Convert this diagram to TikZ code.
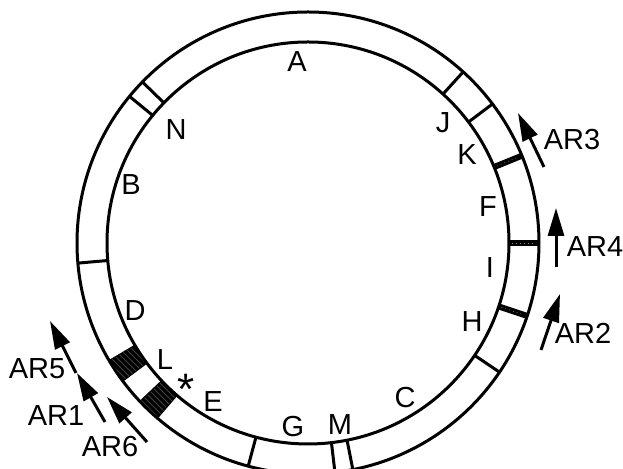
\documentclass[tikz,border=0pt]{standalone}
\usepackage{fontspec}
\setmainfont{Liberation Sans}
\usetikzlibrary{calc, arrows.meta, patterns}

\begin{document}
\begin{tikzpicture}[x=0.5pt, y=0.5pt,
        ringline/.style={line width=1.5pt},
        divider/.style={line width=1.5pt},
        bar/.style={line width=3pt},
        block/.style={fill=black, draw=black, line width=1pt},
        lbl/.style={font=\fontsize{14.5}{16}\selectfont, inner sep=0pt},
        arw/.style={line width=1.5pt, -{Triangle[length=14pt, width=8pt]}}]
        \useasboundingbox (0,0) rectangle (623,469);
        \clip (0,0) rectangle (623,469);
        \coordinate (c) at (308,226);

        % Hatched blocks near L
        \foreach \s/\e in {210.7/216.6, 223.4/229.2} {
            \filldraw[block] ($(c)+(\s:201)$) arc[start angle=\s, end angle=\e, radius=201]
                -- ($(c)+(\e:231)$) arc[start angle=\e, end angle=\s, radius=231] -- cycle;
            \fill[pattern=north west lines, pattern color=black!75]
                ($(c)+(\s:201)$) arc[start angle=\s, end angle=\e, radius=201]
                -- ($(c)+(\e:231)$) arc[start angle=\e, end angle=\s, radius=231] -- cycle;
        }

        % Draw ring
        \draw[ringline] (c) circle[radius=201];
        \draw[ringline] (c) circle[radius=231];

        % Thin dividers
        \foreach \a in {140.6, 135.8, 47.8, 37, -34, 185, 255, 276.7, 281.2}
            \draw[divider] ($(c)+(\a:201)$) -- ($(c)+(\a:231)$);

        % Thick bars
        \foreach \a in {22.2, 0, -18.4} {
            \draw[bar] ($(c)+(\a:201)$) -- ($(c)+(\a:231)$);
            \draw[black!45, line width=0.3pt, dash pattern=on 0.4pt off 1.6pt] ($(c)+(\a:204)$) -- ($(c)+(\a:228)$);
        }

        % Labels inside the ring
        \node[lbl] (lA) at (297,407) {A};
        \node[lbl] (lN) at (176,339) {N};
        \node[lbl] (lJ) at (443,346) {J};
        \node[lbl] (lK) at (467,314) {K};
        \node[lbl] (lF) at (488,262) {F};
        \node[lbl] (lI) at (490,201) {I};
        \node[lbl] (lH) at (472,147) {H};
        \node[lbl] (lC) at (405,71) {C};
        \node[lbl] (lM) at (340,44) {M};
        \node[lbl] (lG) at (293,42) {G};
        \node[lbl] (lE) at (213,67) {E};
        \node[lbl, font=\fontsize{22}{24}\selectfont] (lstar) at (186,80) {*};
        \node[lbl] (lL) at (165,109) {L};
        \node[lbl] (lD) at (135,158) {D};
        \node[lbl] (lB) at (131,284) {B};

        % Arrows outside
        \coordinate (ar3a) at (544,302);
        \coordinate (ar3b) at (518,356);
        \coordinate (ar4a) at (556,202);
        \coordinate (ar4b) at (556,261);
        \coordinate (ar2a) at (541,119);
        \coordinate (ar2b) at (560,175);
        \coordinate (ar5a) at (76,96);
        \coordinate (ar5b) at (50,148);
        \coordinate (ar1a) at (105,47);
        \coordinate (ar1b) at (77,96);
        \coordinate (ar6a) at (147,27);
        \coordinate (ar6b) at (107,72);
        \draw[arw] (ar3a) -- (ar3b);
        \draw[arw] (ar4a) -- (ar4b);
        \draw[arw] (ar2a) -- (ar2b);
        \draw[arw] (ar5a) -- (ar5b);
        \draw[arw] (ar1a) -- (ar1b);
        \draw[arw] (ar6a) -- (ar6b);

        \node[lbl] (tAR3) at (572,329) {AR3};
        \node[lbl] (tAR4) at (595,222) {AR4};
        \node[lbl] (tAR2) at (583,136) {AR2};
        \node[lbl] (tAR5) at (37,100) {AR5};
        \node[lbl] (tAR1) at (56,53) {AR1};
        \node[lbl] (tAR6) at (110,22) {AR6};
\end{tikzpicture}
\end{document}
